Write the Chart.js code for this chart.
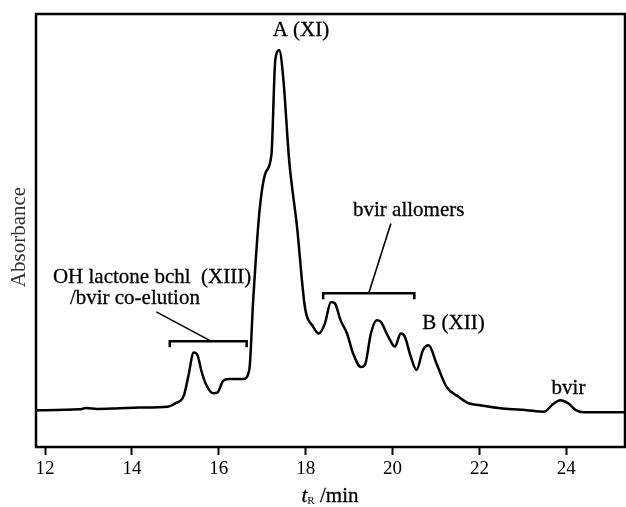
<!DOCTYPE html>
<html lang="en">
<head>
<meta charset="UTF-8">
<title>HPLC trace</title>
<script src="https://cdn.jsdelivr.net/npm/chart.js"></script>
<style>
    body { margin: 0; background: #fff; }
    canvas#hplcChart { display: block; }
</style>
</head>
<body>
<canvas id="hplcChart" width="626" height="507"></canvas>
<script>
// retention time (min) and absorbance (arbitrary units, 0-100 of frame height)
const timeMin = [11.79, 12.8, 12.94, 13.2, 13.63, 14.18, 14.82, 15.0, 15.19, 15.3, 15.42, 15.5, 15.6, 15.69, 15.87, 15.97,
    16.1, 16.24, 16.56, 16.7, 16.79, 16.93, 17.07, 17.21, 17.3, 17.39, 17.48, 17.62, 17.8, 17.98, 18.17,
    18.3, 18.44, 18.58, 18.67, 18.8, 18.95, 19.09, 19.27, 19.36, 19.5, 19.63, 19.72, 19.9, 20.05, 20.19,
    20.28, 20.42, 20.55, 20.7, 20.83, 21.01, 21.24, 21.52, 21.75, 21.98, 22.53, 23.08, 23.49, 23.67,
    23.86, 24.04, 24.22, 24.4, 25.35];
const absorbance = [8.5, 8.7, 9.0, 8.8, 8.9, 9.1, 9.3, 10.1, 11.8, 16.5, 21.8, 21.4, 17.5, 14.8, 12.4, 12.6,
    15.3, 15.7, 15.7, 17.8, 33.9, 53.9, 63.2, 67.5, 89.5, 91.6, 85.5, 66, 50.8, 32.4, 27.8,
    26.2, 28.5, 33.5, 33.2, 29.3, 26.2, 21.6, 18.5, 18.9, 26.2, 29.3, 29, 25.5, 23.2, 26.2,
    25.5, 20.8, 17.8, 22.4, 23.5, 19.3, 13.9, 11.6, 10.1, 9.7, 8.9, 8.5, 8.15, 9.7,
    10.8, 10.1, 8.5, 8, 8];
const tickValues = [12, 14, 16, 18, 20, 22, 24];

// text labels: [text, t, absorbance, align]
const peakLabels = [
    ['A (XI)', 17.89, 96.3, 'center'],
    ['bvir allomers', 20.37, 54.7, 'center'],
    ['OH lactone bchl  (XIII)', 12.18, 39.2, 'left'],
    ['/bvir co-elution', 12.57, 34.3, 'left'],
    ['B (XII)', 21.4, 28.6, 'center'],
    ['bvir', 24.05, 13.6, 'center']
];
// brackets: [t start, t end, level]
const brackets = [
    [14.87, 16.64, 24.4],
    [18.4, 20.5, 35.5]
];
// leader lines: [t1, a1, t2, a2]
const leaders = [
    [15.83, 24.4, 14.56, 31.2],
    [19.45, 35.5, 19.96, 51.6]
];

const serif = '"Liberation Serif", "Times New Roman", serif';

function heavyText(ctx, text, px, py) {
    ctx.fillText(text, px, py);
    ctx.strokeText(text, px, py);
}

const decorPlugin = {
    id: 'decor',
    afterDraw(chart) {
        const ctx = chart.ctx;
        const x = chart.scales.x, y = chart.scales.y;
        const area = chart.chartArea;
        ctx.save();
        // frame
        ctx.strokeStyle = '#000';
        ctx.lineWidth = 2.5;
        ctx.strokeRect(area.left, area.top, area.right - area.left, area.bottom - area.top);

        // brackets
        brackets.forEach(b => {
            const x1 = x.getPixelForValue(b[0]), x2 = x.getPixelForValue(b[1]);
            const yy = y.getPixelForValue(b[2]);
            ctx.beginPath();
            ctx.moveTo(x1, yy + 6);
            ctx.lineTo(x1, yy);
            ctx.lineTo(x2, yy);
            ctx.lineTo(x2, yy + 6);
            ctx.stroke();
        });
        ctx.lineWidth = 1.6;
        leaders.forEach(l => {
            ctx.beginPath();
            ctx.moveTo(x.getPixelForValue(l[0]), y.getPixelForValue(l[1]));
            ctx.lineTo(x.getPixelForValue(l[2]), y.getPixelForValue(l[3]));
            ctx.stroke();
        });

        // peak labels
        ctx.fillStyle = '#000';
        ctx.strokeStyle = '#000';
        ctx.lineWidth = 0.3;
        ctx.font = '21px ' + serif;
        ctx.textBaseline = 'middle';
        peakLabels.forEach(p => {
            ctx.textAlign = p[3];
            heavyText(ctx, p[0], x.getPixelForValue(p[1]), y.getPixelForValue(p[2]));
        });

        // y title
        ctx.save();
        ctx.translate(19, 237);
        ctx.rotate(-Math.PI / 2);
        ctx.textAlign = 'center';
        ctx.fillStyle = '#333';
        ctx.font = '21px ' + serif;
        ctx.fillText('Absorbance', 0, 0);
        ctx.restore();

        // x title: t_R /min
        const cx = 330;
        const ty = 496;
        ctx.textAlign = 'left';
        ctx.font = 'italic 21px ' + serif;
        const tW = ctx.measureText('t').width;
        ctx.font = '11px ' + serif;
        const rW = ctx.measureText('R').width;
        ctx.font = '21px ' + serif;
        const mW = ctx.measureText(' /min').width;
        const sx = cx - (tW + rW + mW) / 2;
        ctx.font = 'italic 21px ' + serif;
        heavyText(ctx, 't', sx, ty);
        ctx.font = '11px ' + serif;
        ctx.fillText('R', sx + tW, ty + 5);
        ctx.font = '21px ' + serif;
        heavyText(ctx, ' /min', sx + tW + rW, ty);
        ctx.restore();
    }
};

new Chart(document.getElementById('hplcChart').getContext('2d'), {
    type: 'line',
    data: {
        datasets: [{
            data: timeMin.map((t, i) => ({ x: t, y: absorbance[i] })),
            borderColor: '#000',
            borderWidth: 2.5,
            pointRadius: 0,
            fill: false,
            cubicInterpolationMode: 'monotone'
        }]
    },
    options: {
        responsive: false,
        animation: false,
        layout: { padding: { left: 36, right: 1, top: 14, bottom: 0 } },
        plugins: { legend: { display: false }, tooltip: { enabled: false } },
        scales: {
            x: {
                type: 'linear',
                min: 11.79,
                max: 25.35,
                afterBuildTicks: axis => { axis.ticks = tickValues.map(v => ({ value: v })); },
                afterFit: axis => { axis.height = 60; },
                grid: {
                    drawOnChartArea: false,
                    drawTicks: true,
                    tickLength: 8,
                    tickColor: '#000',
                    tickWidth: 2
                },
                border: { display: false },
                ticks: {
                    color: '#000',
                    padding: 3,
                    maxRotation: 0,
                    font: { family: serif, size: 19 }
                }
            },
            y: {
                type: 'linear',
                min: 0,
                max: 100,
                display: false
            }
        }
    },
    plugins: [decorPlugin]
});
</script>
</body>
</html>
